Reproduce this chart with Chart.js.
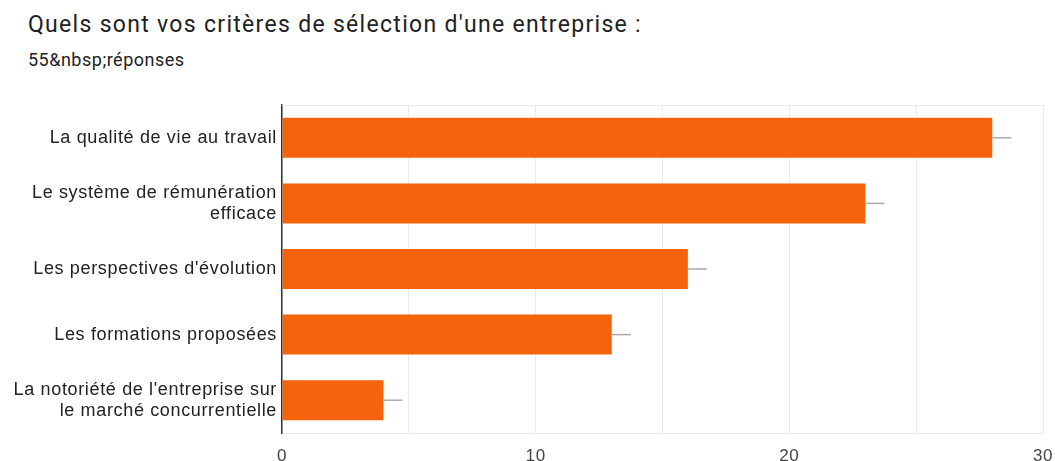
<!DOCTYPE html>
<html>
<head>
<meta charset="utf-8">
<script src="https://cdn.jsdelivr.net/npm/chart.js@4"></script>
<style>
  html, body { margin: 0; padding: 0; background: #fff; }
  #wrap { position: relative; width: 1055px; height: 461px; }
  #title { position: absolute; left: 28px; top: 11px; font: 23px Roboto, sans-serif; letter-spacing: 1.3px; color: #202124; white-space: nowrap; }
  #sub { position: absolute; left: 28px; top: 49px; font: 18px Roboto, sans-serif; letter-spacing: 0.5px; color: #202124; white-space: nowrap; }
  canvas { position: absolute; left: 0; top: 0; }
</style>
</head>
<body>
<div id="wrap">
  <div id="title">Quels sont vos critères de sélection d'une entreprise :</div>
  <div id="sub">55&amp;nbsp;réponses</div>
  <canvas id="c" width="1055" height="461"></canvas>
</div>
<script>
const categories = [
  'La qualité de vie au travail',
  ['Le système de rémunération', 'efficace'],
  "Les perspectives d'évolution",
  'Les formations proposées',
  ["La notoriété de l'entreprise sur", 'le marché concurrentielle']
];
const counts = [28, 23, 16, 13, 4];
const xTicks = [0, 10, 20, 30];

// trait gris au bout de chaque barre + ligne du haut
const extras = {
  id: 'extras',
  beforeDraw(chart) {
    chart.ctx.letterSpacing = '0.65px';
  },
  afterDatasetsDraw(chart) {
    const ctx = chart.ctx;
    const area = chart.chartArea;
    ctx.save();
    ctx.strokeStyle = '#ebebeb';
    ctx.lineWidth = 1;
    ctx.beginPath();
    ctx.moveTo(area.left, area.top + 0.5);
    ctx.lineTo(area.right, area.top + 0.5);
    ctx.stroke();
    ctx.strokeStyle = '#aaaaaa';
    ctx.lineWidth = 1.5;
    chart.getDatasetMeta(0).data.forEach(bar => {
      ctx.beginPath();
      ctx.moveTo(bar.x, bar.y);
      ctx.lineTo(bar.x + 19, bar.y);
      ctx.stroke();
    });
    ctx.restore();
  }
};

new Chart(document.getElementById('c'), {
  type: 'bar',
  data: {
    labels: categories,
    datasets: [{
      data: counts,
      backgroundColor: '#f5630d',
      barPercentage: 0.61,
      categoryPercentage: 1
    }]
  },
  plugins: [extras],
  options: {
    indexAxis: 'y',
    responsive: false,
    animation: false,
    layout: { padding: { left: 0, right: 12, top: 105, bottom: 0 } },
    plugins: { legend: { display: false }, tooltip: { enabled: false } },
    scales: {
      x: {
        min: 0,
        max: 30,
        afterFit: s => { s.height = 28; s.paddingRight = 0; s.paddingLeft = 0; },
        ticks: {
          stepSize: 5,
          autoSkip: false,
          maxRotation: 0,
          padding: 13,
          color: '#444',
          font: { family: 'Liberation Sans, Arial', size: 17 },
          callback: v => xTicks.includes(v) ? String(v) : ''
        },
        grid: { color: '#ebebeb', drawTicks: false },
        border: { color: '#ebebeb' }
      },
      y: {
        afterFit: s => { s.width = 282; },
        ticks: {
          padding: 5,
          color: '#222',
          font: { family: 'Liberation Sans, Arial', size: 18, lineHeight: 1.17 }
        },
        grid: { display: false, drawTicks: false },
        border: { color: '#333', width: 1.5 }
      }
    }
  }
});
</script>
</body>
</html>
